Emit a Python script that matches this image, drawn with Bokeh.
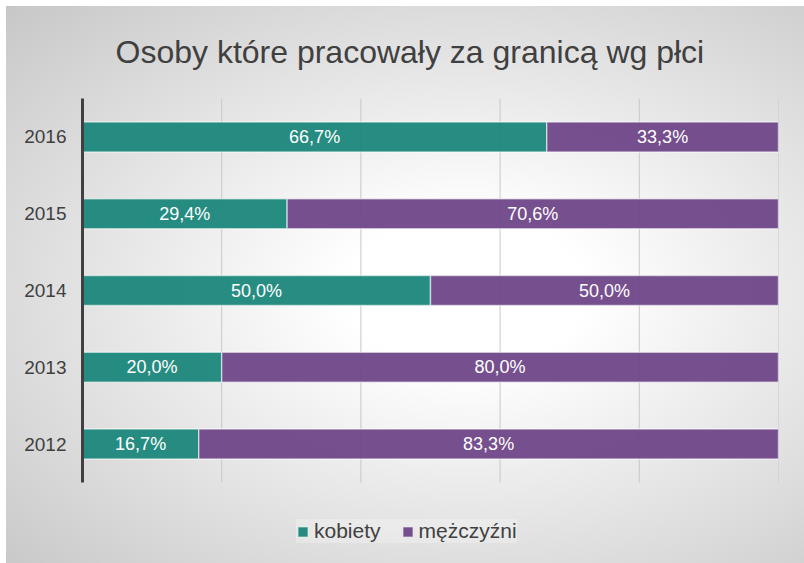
from bokeh.plotting import figure
from bokeh.models import (Range1d, ColumnDataSource, LabelSet, Legend,
                          LegendItem, FixedTicker, Title, InlineStyleSheet)
from bokeh.core.properties import value
from bokeh.embed import file_html
from bokeh.resources import INLINE

# ---- data ----
years = ["2012", "2013", "2014", "2015", "2016"]
kobiety = [16.7, 20.0, 50.0, 29.4, 66.7]
mezczyzni = [83.3, 80.0, 50.0, 70.6, 33.3]
series_names = ["kobiety", "mężczyźni"]
grid_ticks = [0, 20, 40, 60, 80, 100]
title_text = "Osoby które pracowały za granicą wg płci"

colors = ["#1b877b", "#6f4788"]
FONT = "Liberation Sans"

ypos = [int(y) for y in years]
lo, hi = ypos[0] - 0.5, ypos[-1] + 0.5
# frame: 98..557 px, category band 98..482 px (76.8 px per category)
extra_below = (557 - 482) / 76.8

k_mid = [k / 2 for k in kobiety]
m_mid = [k + m / 2 for k, m in zip(kobiety, mezczyzni)]
fmt = lambda v: ("%.1f%%" % v).replace(".", ",")

src = ColumnDataSource(dict(y=ypos, kobiety=kobiety, mezczyzni=mezczyzni))
lab_src = ColumnDataSource(dict(
    x=k_mid + m_mid,
    y=ypos + ypos,
    t=[fmt(v) for v in kobiety] + [fmt(v) for v in mezczyzni],
))

p = figure(width=804, height=563,
           y_range=Range1d(lo - extra_below, hi),
           x_range=Range1d(0, 100),
           output_backend="svg", toolbar_location=None,
           min_border_left=82, min_border_right=26,
           min_border_top=98, min_border_bottom=6)

p.title = Title(text=title_text, align="left", offset=33, standoff=57,
                text_font=FONT, text_font_size="32px", text_font_style="normal",
                text_color="#404040")

p.background_fill_alpha = 0
p.border_fill_alpha = 0
p.outline_line_color = None
p.stylesheets = [InlineStyleSheet(css=":host { background: linear-gradient(#fff, #fff) 0 0 / 6px 100% no-repeat, linear-gradient(#fff, #fff) 0 0 / 100% 6px no-repeat, radial-gradient(ellipse farthest-corner at 58% 52%, #ffffff 0%, #ffffff 18%, #c6c6c6 100%); }")]

# vertical grid lines limited to the category band
p.segment(x0=grid_ticks, x1=grid_ticks, y0=[lo] * len(grid_ticks), y1=[hi] * len(grid_ticks),
          line_color="#c8c8c8", line_width=1)

rs = p.hbar_stack(["kobiety", "mezczyzni"], y="y", height=0.39, source=src,
                  fill_color=colors, fill_alpha=0.95,
                  line_color="white", line_alpha=0.55, line_width=1.5)

labels = LabelSet(x="x", y="y", text="t", source=lab_src,
                  text_align="center", text_baseline="middle",
                  text_color="white", text_font=value(FONT), text_font_size="18px")
p.add_layout(labels)

p.xaxis.visible = False
p.xgrid.visible = False
p.ygrid.visible = False

p.yaxis.ticker = FixedTicker(ticks=ypos)
p.yaxis.major_label_overrides = {yp: y for yp, y in zip(ypos, years)}
p.yaxis.bounds = (lo, hi)
p.yaxis.axis_line_color = "#404040"
p.yaxis.axis_line_width = 3
p.yaxis.major_tick_line_color = None
p.yaxis.minor_tick_line_color = None
p.yaxis.major_label_text_font = FONT
p.yaxis.major_label_text_font_size = "19px"
p.yaxis.major_label_text_color = "#404040"
p.yaxis.major_label_standoff = 10

legend = Legend(items=[LegendItem(label=series_names[i], renderers=[rs[i]]) for i in range(2)],
                orientation="horizontal", location=(214, 14),
                label_text_font=FONT, label_text_font_size="21px",
                label_text_color="#404040",
                glyph_width=13, glyph_height=13, label_standoff=5, spacing=20,
                padding=10, margin=0,
                background_fill_color="white", background_fill_alpha=0.25,
                border_line_color=None)
p.add_layout(legend)

open("out.html", "w").write(file_html(p, INLINE))
